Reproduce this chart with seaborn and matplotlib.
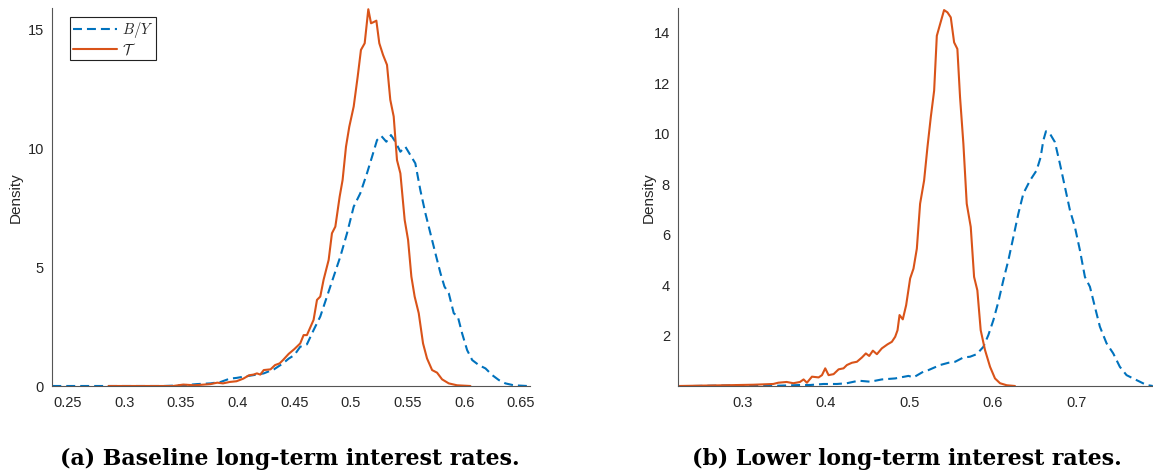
import matplotlib
matplotlib.use("Agg")
import matplotlib.pyplot as plt
import seaborn as sns

# ---------------- data ----------------
# Panel (a): baseline long-term interest rates
a_by_x = [0.2364, 0.3345, 0.352, 0.364, 0.376, 0.385, 0.393, 0.399, 0.405, 0.417, 0.423, 0.432,
          0.440, 0.445, 0.450, 0.4552, 0.4611, 0.467, 0.4729, 0.4788, 0.4847, 0.4906, 0.4965,
          0.5024, 0.5082, 0.5141, 0.5186, 0.5230, 0.5268, 0.5312, 0.5353, 0.5392, 0.5436, 0.548,
          0.5524, 0.5568, 0.5612, 0.5657, 0.5701, 0.5745, 0.579, 0.5825, 0.5863, 0.5907, 0.5943,
          0.5981, 0.6025, 0.607, 0.6128, 0.6187, 0.6246, 0.6305, 0.6363, 0.6437, 0.6555, 0.658]
a_by_y = [0, 0, 0.03, 0.08, 0.11, 0.17, 0.31, 0.34, 0.39, 0.48, 0.53, 0.70,
          0.95, 1.15, 1.30, 1.65, 1.75, 2.35, 2.92, 3.76, 4.60, 5.44, 6.42,
          7.54, 8.10, 8.94, 9.64, 10.34, 10.51, 10.27, 10.55, 10.27, 9.85, 10.06,
          9.71, 9.36, 8.24, 7.26, 6.42, 5.58, 4.74, 4.18, 3.90, 3.06, 2.92,
          2.21, 1.51, 1.09, 0.88, 0.74, 0.46, 0.25, 0.11, 0.03, 0.0, 0.0]

a_t_x = [0.286, 0.343, 0.352, 0.362, 0.376, 0.382, 0.387, 0.393, 0.399, 0.405, 0.410, 0.414,
         0.417, 0.420, 0.423, 0.429, 0.433, 0.437, 0.440, 0.445, 0.450, 0.4552, 0.4582, 0.4611,
         0.467, 0.470, 0.4729, 0.4758, 0.4803, 0.4832, 0.4862, 0.4900, 0.4926, 0.4956, 0.4985,
         0.5024, 0.5059, 0.5088, 0.5121, 0.5153, 0.5177, 0.520, 0.5224, 0.525, 0.5283, 0.5318,
         0.5347, 0.5377, 0.5406, 0.5436, 0.5474, 0.5504, 0.5533, 0.5562, 0.5598, 0.5636, 0.5671,
         0.5716, 0.5760, 0.5804, 0.5863, 0.5936, 0.6054]
a_t_y = [0, 0, 0.06, 0.03, 0.08, 0.14, 0.11, 0.17, 0.20, 0.31, 0.45, 0.48,
         0.53, 0.48, 0.67, 0.70, 0.88, 0.95, 1.09, 1.35, 1.55, 1.79, 2.14, 2.14,
         2.78, 3.62, 3.76, 4.46, 5.30, 6.42, 6.70, 7.96, 8.66, 10.06, 10.9,
         11.75, 13.0, 14.13, 14.41, 15.84, 15.25, 15.3, 15.36, 14.41, 13.92, 13.5,
         12.03, 11.33, 9.5, 8.94, 6.98, 6.14, 4.60, 3.76, 3.06, 1.79, 1.16,
         0.67, 0.56, 0.28, 0.11, 0.03, 0.0]

# Panel (b): lower long-term interest rates
b_by_x = [0.2415, 0.301, 0.341, 0.361, 0.3694, 0.3813, 0.3973, 0.4132, 0.4251, 0.4391, 0.453,
          0.4669, 0.4829, 0.4988, 0.5048, 0.5167, 0.5227, 0.5366, 0.5466, 0.5546, 0.5645, 0.5725,
          0.5804, 0.5884, 0.5944, 0.6004, 0.6063, 0.6123, 0.6183, 0.6243, 0.6302, 0.6362, 0.6442,
          0.6521, 0.6569, 0.6601, 0.6633, 0.6681, 0.674, 0.68, 0.686, 0.692, 0.6979, 0.7039,
          0.7099, 0.7159, 0.7218, 0.7278, 0.7358, 0.7438, 0.7517, 0.7597, 0.7676, 0.7756,
          0.7836, 0.7911]
b_by_y = [0, 0.03, 0.01, 0.03, 0.04, 0.04, 0.08, 0.08, 0.11, 0.21, 0.17,
          0.26, 0.30, 0.40, 0.34, 0.57, 0.63, 0.83, 0.92, 0.96, 1.13, 1.16,
          1.26, 1.55, 2.02, 2.61, 3.33, 4.19, 4.98, 5.90, 6.82, 7.62, 8.14,
          8.54, 9.06, 9.72, 10.09, 9.99, 9.66, 8.80, 7.88, 6.96, 6.30, 5.38,
          4.32, 3.93, 3.14, 2.35, 1.69, 1.29, 0.76, 0.43, 0.30, 0.17,
          0.04, 0.0]

b_t_x = [0.2235, 0.2813, 0.3131, 0.337, 0.343, 0.353, 0.361, 0.369, 0.3733, 0.3773, 0.3833,
         0.3913, 0.3953, 0.3992, 0.4032, 0.4092, 0.4152, 0.4211, 0.4251, 0.4311, 0.4371, 0.4431,
         0.4478, 0.4518, 0.4562, 0.4610, 0.4669, 0.4737, 0.4789, 0.4829, 0.4857, 0.4881, 0.4920,
         0.4960, 0.5008, 0.5048, 0.5088, 0.5127, 0.5175, 0.5215, 0.5255, 0.5295, 0.5327, 0.5366,
         0.5414, 0.5454, 0.5494, 0.5534, 0.5573, 0.5605, 0.5645, 0.5685, 0.5733, 0.5773, 0.5812,
         0.5852, 0.5904, 0.5964, 0.6023, 0.6083, 0.6163, 0.6262]
b_t_y = [0, 0.03, 0.05, 0.08, 0.13, 0.16, 0.11, 0.16, 0.26, 0.13, 0.37,
         0.34, 0.43, 0.70, 0.43, 0.47, 0.66, 0.70, 0.83, 0.92, 0.96, 1.13,
         1.29, 1.19, 1.40, 1.26, 1.49, 1.65, 1.75, 1.95, 2.21, 2.81, 2.64,
         3.20, 4.26, 4.65, 5.44, 7.22, 8.14, 9.46, 10.65, 11.70, 13.87, 14.33,
         14.89, 14.80, 14.60, 13.61, 13.35, 11.44, 9.59, 7.22, 6.30, 4.32, 3.79,
         2.21, 1.42, 0.76, 0.30, 0.11, 0.03, 0.0]

a_xticks = [0.25, 0.3, 0.35, 0.4, 0.45, 0.5, 0.55, 0.6, 0.65]
a_xlabels = ["0.25", "0.3", "0.35", "0.4", "0.45", "0.5", "0.55", "0.6", "0.65"]
a_yticks = [0, 5, 10, 15]
b_xticks = [0.3, 0.4, 0.5, 0.6, 0.7]
b_xlabels = ["0.3", "0.4", "0.5", "0.6", "0.7"]
b_yticks = [2, 4, 6, 8, 10, 12, 14]

series_labels = [r"$B/Y$", r"$\mathcal{T}$"]
captions = ["(a) Baseline long-term interest rates.", "(b) Lower long-term interest rates."]
ylabel = "Density"

# ---------------- style ----------------
sns.set_style("white")
plt.rcParams["font.family"] = ["Liberation Sans", "DejaVu Sans"]
plt.rcParams["mathtext.fontset"] = "cm"

BLUE = "#0072BD"
ORANGE = "#D95319"
TXT = "#262626"
AX = "#555555"
DASH = (0, (4.3, 2.4))

W, H = 1153, 474
fig = plt.figure(figsize=(W / 100, H / 100), dpi=100)
bottom = 1 - 386 / H
height = (386 - 8.3) / H
ax1 = fig.add_axes([52.3 / W, bottom, (530 - 52.3) / W, height])
ax2 = fig.add_axes([678.3 / W, bottom, (1152.7 - 678.3) / W, height])

for ax, bx, by, tx, ty, lab in [
    (ax1, a_by_x, a_by_y, a_t_x, a_t_y, True),
    (ax2, b_by_x, b_by_y, b_t_x, b_t_y, False),
]:
    sns.lineplot(x=bx, y=by, ax=ax, color=BLUE, lw=1.5, linestyle=DASH, sort=False,
                 estimator=None, label=series_labels[0] if lab else None)
    sns.lineplot(x=tx, y=ty, ax=ax, color=ORANGE, lw=1.5, sort=False,
                 estimator=None, label=series_labels[1] if lab else None)
    for s in ["top", "right"]:
        ax.spines[s].set_visible(False)
    for s in ["left", "bottom"]:
        ax.spines[s].set_color(AX)
        ax.spines[s].set_linewidth(0.8)
    ax.tick_params(direction="in", length=4, width=0.8, color=AX, labelcolor=TXT,
                   labelsize=10.5)
    ax.tick_params(axis="x", pad=7)
    ax.tick_params(axis="y", pad=6)
    ax.set_ylabel(ylabel, fontsize=11, color=TXT)
    ax.set_xlabel("")

ax1.set_xlim(0.2364, 0.658)
ax1.set_ylim(0, 15.88)
ax1.set_xticks(a_xticks)
ax1.set_xticklabels(a_xlabels)
ax1.set_yticks(a_yticks)
ax1.yaxis.set_label_coords(-0.0613, 0.5)

ax2.set_xlim(0.2234, 0.791)
ax2.set_ylim(0, 14.96)
ax2.set_xticks(b_xticks)
ax2.set_xticklabels(b_xlabels)
ax2.set_yticks(b_yticks)
ax2.yaxis.set_label_coords(-0.047, 0.5)
if ax2.get_legend() is not None:
    ax2.get_legend().remove()

leg = ax1.legend(loc="upper left", bbox_to_anchor=(0.037, 0.977), borderaxespad=0,
                 frameon=True, fancybox=False, framealpha=1, edgecolor="#222222",
                 fontsize=10.5, handlelength=3.0, handletextpad=0.35, labelspacing=0.1,
                 borderpad=0.2)
leg.get_frame().set_linewidth(0.8)

cap_kw = dict(fontfamily="DejaVu Serif", fontweight="bold", fontsize=15.8,
              ha="center", va="baseline", color="black")
fig.text(289.5 / W, 1 - 465 / H, captions[0], **cap_kw)
fig.text(907 / W, 1 - 465 / H, captions[1], **cap_kw)

fig.savefig("out.png", dpi=100)
